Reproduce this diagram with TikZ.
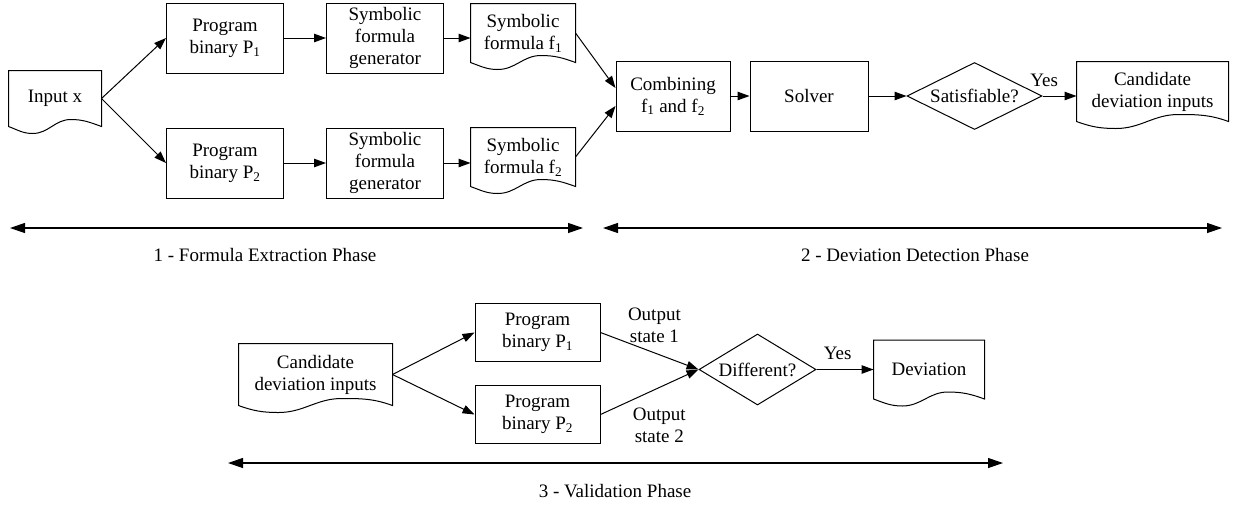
\documentclass[tikz,border=0pt]{standalone}
\usepackage{fontspec}
\setmainfont{Liberation Serif}
\usetikzlibrary{positioning,shapes.geometric,arrows.meta,calc}

\begin{document}
\begin{tikzpicture}[x=1pt,y=1pt,>={Triangle[length=12pt,width=8.5pt]},line width=1pt,
	font=\fontsize{19}{22}\selectfont,
	box/.style={draw,rectangle,align=center,minimum width=117pt,minimum height=70pt,inner sep=2pt},
	doc/.style={rectangle,align=center,inner sep=2pt},
	decide/.style={draw,diamond,aspect=2,inner sep=0pt},
	lbl/.style={align=center,inner sep=2pt},
	phase/.style={<->,line width=1.2pt,>={Triangle[length=15pt,width=10pt]}}]
	\useasboundingbox (0,0) rectangle (1233,-507);

	% 1 - formula extraction
	\node[doc,minimum width=92pt,minimum height=55pt] (inx) at (55,-98.5) {Input x};
	\node[box] (p1) at (225,-38) {Program\\binary P\textsubscript{1}};
	\node[box] (sg1) [right=42pt of p1] {Symbolic\\formula\\generator};
	\node[box] (p2) [below=54pt of p1] {Program\\binary P\textsubscript{2}};
	\node[box] (sg2) [right=42pt of p2] {Symbolic\\formula\\generator};
	\node[doc,minimum width=104pt,minimum height=58pt] (sf1) at (523,-33) {Symbolic\\formula f\textsubscript{1}};
	\node[doc,minimum width=104pt,minimum height=58pt] (sf2) at (523,-157) {Symbolic\\formula f\textsubscript{2}};

	% 2 - deviation detection
	\node[box,minimum width=114pt] (comb) at (673,-96) {Combining\\f\textsubscript{1} and f\textsubscript{2}};
	\node[box,minimum width=118pt] (solver) [right=19pt of comb] {Solver};
	\node[decide,minimum width=135pt,minimum height=67pt] (sat) [right=38pt of solver] {Satisfiable?};
	\node[doc,minimum width=151pt,minimum height=59pt] (cand) at (1152.5,-91.5) {Candidate\\deviation inputs};

	% 3 - validation
	\node[doc,minimum width=153pt,minimum height=61pt] (cand2) at (315.5,-374.5) {Candidate\\deviation inputs};
	\node[box,minimum width=125pt,minimum height=58pt] (bp1) at (537.5,-332.5) {Program\\binary P\textsubscript{1}};
	\node[box,minimum width=125pt,minimum height=58pt] (bp2) [below=23pt of bp1] {Program\\binary P\textsubscript{2}};
	\node[decide,minimum width=117pt,minimum height=71pt] (diff) at (757.5,-369.5) {Different?};
	\node[doc,minimum width=110pt,minimum height=58pt] (dev) [right=57pt of diff] {Deviation};

	% document outlines
	\foreach \n in {inx,sf1,sf2,cand,cand2,dev}
		\draw (\n.south west) -- (\n.north west) -- (\n.north east) -- (\n.south east)
			to[out=160,in=0] ($(\n.south west)!0.67!(\n.south east)+(0,7)$)
			to[out=180,in=0] ($(\n.south west)!0.26!(\n.south east)+(0,-7)$)
			to[out=180,in=-20] (\n.south west) -- cycle;

	\draw[->] (inx.east) -- (p1.west);
	\draw[->] (inx.east) -- (p2.west);
	\draw[->] (p1) -- (sg1);
	\draw[->] (p2) -- (sg2);
	\draw[->] (sg1.east) -- (sg1.east -| sf1.west);
	\draw[->] (sg2.east) -- (sg2.east -| sf2.west);
	\draw[->] (sf1.east) -- ([yshift=8pt]comb.west);
	\draw[->] (sf2.east) -- ([yshift=-10pt]comb.west);
	\draw[->] (comb) -- (solver);
	\draw[->] (solver) -- (sat);
	\draw[->] (sat.east) -- node[lbl,above=7pt,pos=0.05]{Yes} (sat.east -| cand.west);

	\draw[->] (cand2.east) -- (bp1.west);
	\draw[->] (cand2.east) -- (bp2.west);
	\draw[->] (bp1.east) -- node[lbl,pos=0.55,above=8pt]{Output\\state 1} (diff.west);
	\draw[->] (bp2.east) -- node[lbl,pos=0.6,below=18pt]{Output\\state 2} (diff.west);
	\draw[->] (diff) -- node[lbl,above=7pt,pos=0.37]{Yes} (dev);

	% phases
	\coordinate (e1) at (10,-228);
	\coordinate (e2) at (583,-228);
	\coordinate (d1) at (603,-228);
	\coordinate (d2) at (1222,-228);
	\coordinate (v1) at (228,-463);
	\coordinate (v2) at (1003,-463);
	\draw[phase] (e1) -- (e2);
	\draw[phase] (d1) -- (d2);
	\draw[phase] (v1) -- (v2);
	\node[lbl] (t1) at (265,-255) {1 - Formula Extraction Phase};
	\node[lbl] (t2) at (915,-255) {2 - Deviation Detection Phase};
	\node[lbl] (t3) at (615,-491) {3 - Validation Phase};
\end{tikzpicture}
\end{document}
